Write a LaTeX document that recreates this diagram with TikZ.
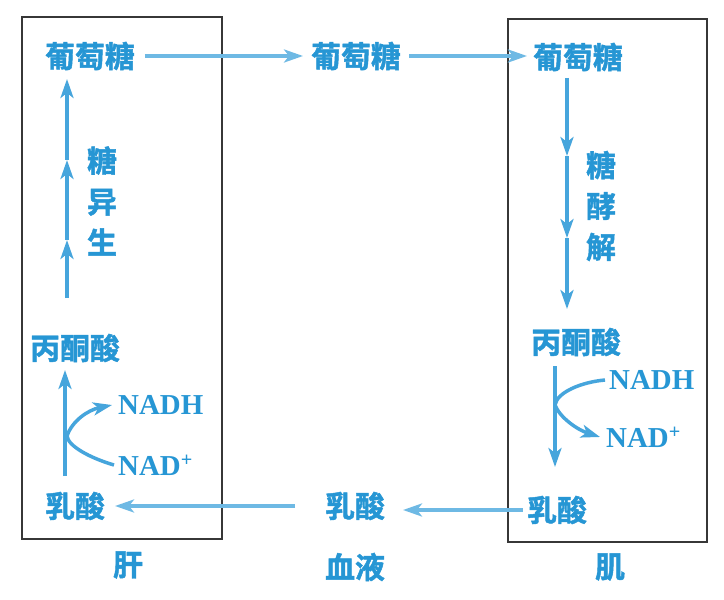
\documentclass[tikz,border=0pt]{standalone}
\usepackage{fontspec}
\setmainfont{Liberation Serif}
\newfontfamily\cjk{Noto Sans CJK SC}[BoldFont={* Bold}, BoldFeatures={FakeBold=1.5}]
\usetikzlibrary{arrows.meta}
\definecolor{txtblue}{RGB}{38,150,212}
\definecolor{arrblue}{RGB}{70,165,220}
\definecolor{flowblue}{RGB}{110,185,228}
\definecolor{boxgray}{RGB}{55,55,55}
\tikzset{
  zh/.style={font=\cjk\bfseries\fontsize{30}{41}\selectfont, text=txtblue, inner sep=0pt},
  en/.style={font=\bfseries\fontsize{29}{30}\selectfont, text=txtblue, inner sep=0pt},
  organ/.style={draw=boxgray, line width=2.5pt},
  tip/.style={-{Stealth[length=19pt,width=13pt,inset=5pt]}},
  arr/.style={draw=arrblue, line width=3.5pt, tip},
  seg/.style={draw=arrblue, line width=3.5pt},
  flow/.style={draw=flowblue, line width=3.5pt, tip},
}
\begin{document}
\begin{tikzpicture}[x=1bp,y=-1bp]
\useasboundingbox[fill=white] (0,0) rectangle (724,600);
% boxes
\draw[organ] (22,17) rectangle (222,539);
\draw[organ] (508,19) rectangle (707,542);
% glucose
\node[zh] (gL) at (90,56) {葡萄糖};
\node[zh] (gM) at (356,56) {葡萄糖};
\node[zh] (gR) at (578,57) {葡萄糖};
% pyruvate
\node[zh] (pL) at (75,348) {丙酮酸};
\node[zh] (pR) at (576,342) {丙酮酸};
% lactate
\node[zh] (lL) at (75,506) {乳酸};
\node[zh] (lM) at (355,506) {乳酸};
\node[zh] (lR) at (557,510) {乳酸};
% process labels
\node[zh, align=center] (gng) at (102,201) {糖\\异\\生};
\node[zh, align=center] (gly) at (601,206) {糖\\酵\\解};
% NADH
\node[en, anchor=west] (nadhL) at (118,405) {NADH};
\node[en, anchor=west] (nadL) at (118,465) {NAD\textsuperscript{+}};
\node[en, anchor=west] (nadhR) at (609,380) {NADH};
\node[en, anchor=west] (nadR) at (606,437) {NAD\textsuperscript{+}};
% organ labels
\node[zh] (liver) at (128,565) {肝};
\node[zh] (blood) at (355,567) {血液};
\node[zh] (muscle) at (610,567) {肌};
% horizontal flows
\draw[flow] ([xshift=10pt]gL.east) -- ([xshift=-8pt]gM.west);
\draw[flow] ([xshift=8pt]gM.east) -- ([xshift=-6pt]gR.west |- gM.east);
\draw[flow] ([xshift=-4pt]lR.west) -- ([xshift=18pt]lM.east |- lR.west);
\draw[flow] ([xshift=-30pt]lM.west) -- ([xshift=10pt]lL.east);
% gluconeogenesis arrow (left)
\coordinate (a0) at (67,298);
\coordinate (a1) at (67,240);
\coordinate (a2) at (67,160);
\coordinate (a3) at (67,79);
\draw[arr] (a0) -- (a1);
\draw[arr] (a1) -- (a2);
\draw[arr] (a2) -- (a3);
% glycolysis arrow (right)
\coordinate (b0) at (567,78);
\coordinate (b1) at (567,156);
\coordinate (b2) at (567,238);
\coordinate (b3) at (567,309);
\draw[arr] (b0) -- (b1);
\draw[arr] (b1) -- (b2);
\draw[arr] (b2) -- (b3);
% left lactate -> pyruvate
\coordinate (c0) at (65,476);
\coordinate (c1) at (65,370);
\draw[arr] (c0) -- (c1);
\draw[seg, tip] ([xshift=-4pt]nadL.west) .. controls (90,458) and (68,446) .. (67,436) .. controls (72,421) and (88,410) .. ([xshift=-6pt]nadhL.west);
% right pyruvate -> lactate
\coordinate (d0) at (555,366);
\coordinate (d1) at (555,467);
\draw[arr] (d0) -- (d1);
\draw[seg, tip] ([xshift=-4pt]nadhR.west) .. controls (582,382) and (557,392) .. (555,405) .. controls (560,418) and (578,430) .. ([xshift=-6pt]nadR.west);
\end{tikzpicture}
\end{document}
